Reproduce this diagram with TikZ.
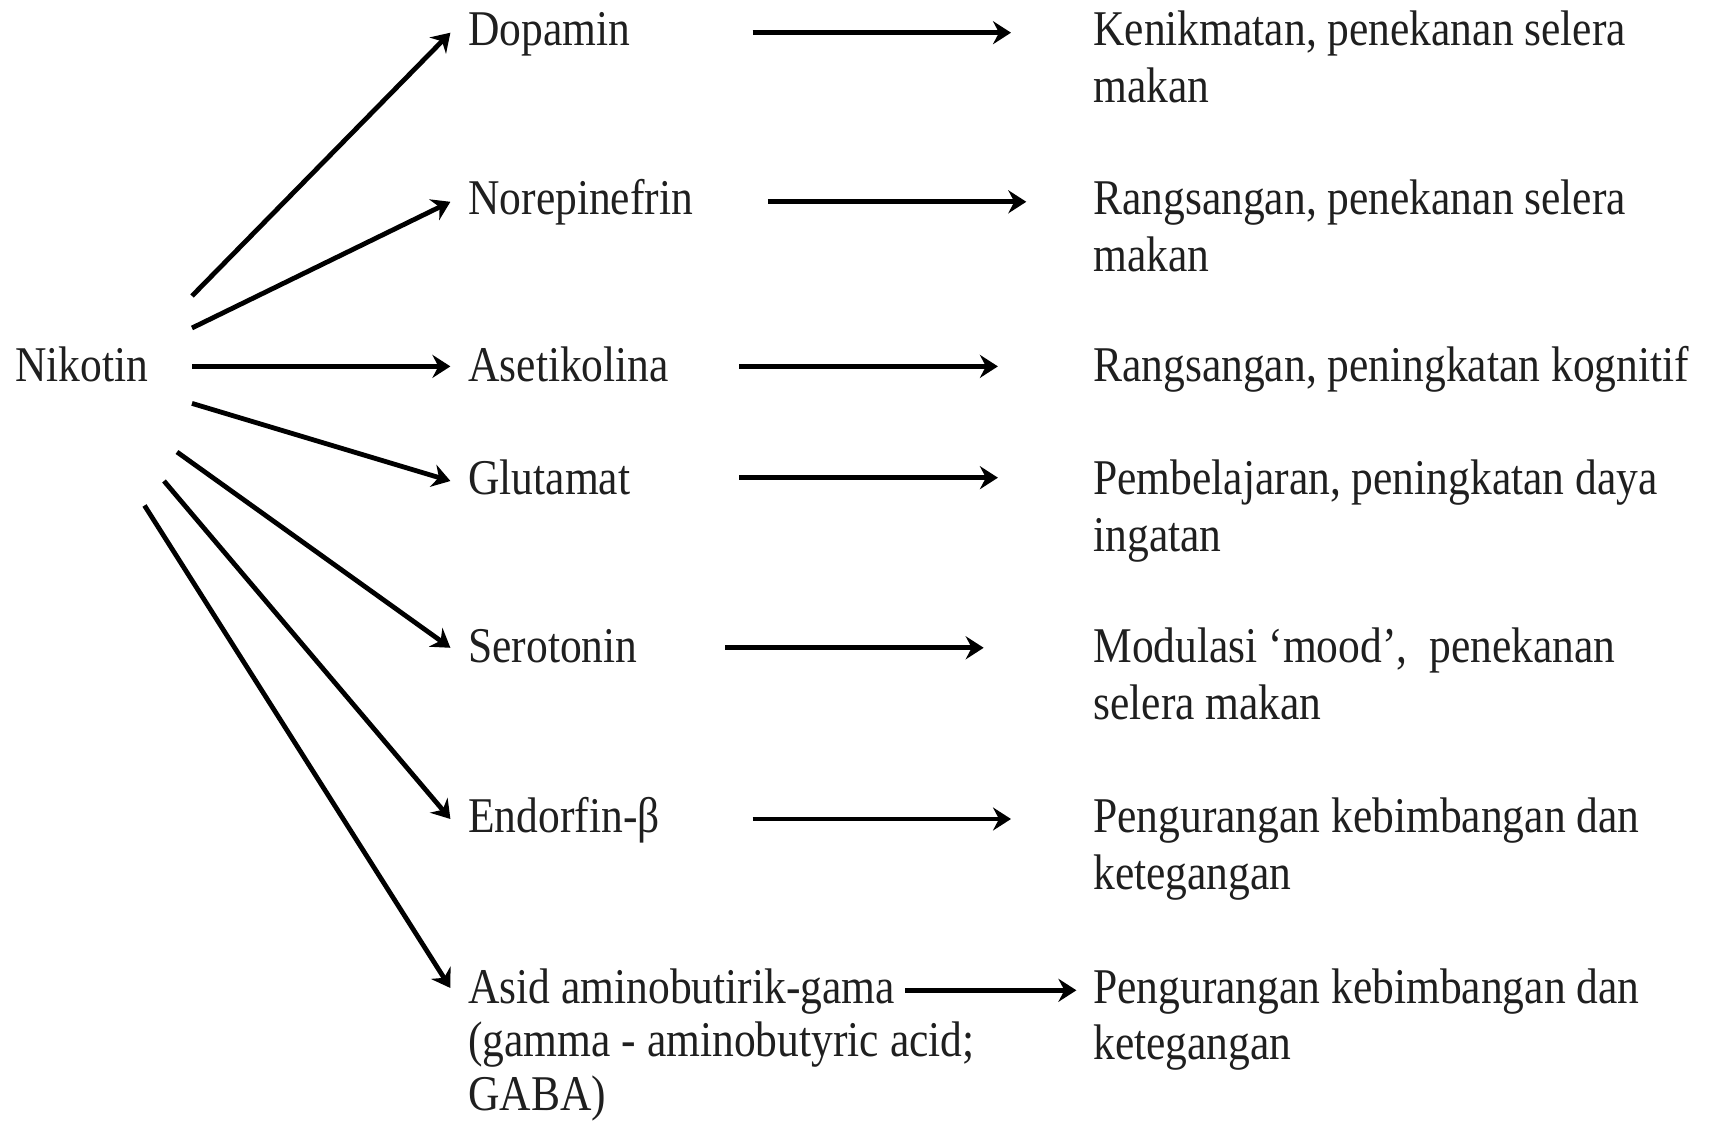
\documentclass[tikz,border=0pt]{standalone}
\usepackage{fontspec}
\setmainfont{Liberation Serif}[FakeStretch=0.87]
\usetikzlibrary{arrows.meta}
\newcommand\mlines[1]{\begin{tabular}[t]{@{}l@{}}#1\end{tabular}}
\begin{document}
\begin{tikzpicture}[x=0.5pt,y=-0.5pt,
  lbl/.style={anchor=base west,inner sep=0pt,text=black!88,font=\fontsize{25pt}{28.35pt}\selectfont},
  arr/.style={-{Stealth[length=9pt,width=11.5pt,inset=3pt]},line width=2.4pt}]
\useasboundingbox (0,0) rectangle (1710,1122);
% left node
\node[lbl] (nik) at (15,381.4) {Nikotin};
% middle column
\node[lbl] (dop) at (468,45.5) {Dopamin};
\node[lbl] (nor) at (468,214.6) {Norepinefrin};
\node[lbl] (ase) at (468,381.4) {Asetikolina};
\node[lbl] (glu) at (468,494.9) {Glutamat};
\node[lbl] (ser) at (468,662.8) {Serotonin};
\node[lbl] (edf) at (468,833) {Endorfin-β};
\node[lbl,font=\fontsize{25pt}{26.9pt}\selectfont] (gab) at (468,1003) {\mlines{Asid aminobutirik-gama\\(gamma - aminobutyric acid;\\GABA)}};
% right column
\node[lbl] (r1) at (1093,45.5) {\mlines{Kenikmatan, penekanan selera\\makan}};
\node[lbl] (r2) at (1093,214.6) {\mlines{Rangsangan, penekanan selera\\makan}};
\node[lbl] (r3) at (1093,381.4) {Rangsangan, peningkatan kognitif};
\node[lbl] (r4) at (1093,494.9) {\mlines{Pembelajaran, peningkatan daya\\ingatan}};
\node[lbl] (r5) at (1093,662.8) {\mlines{Modulasi ‘mood’,\ \ penekanan\\selera makan}};
\node[lbl] (r6) at (1093,833) {\mlines{Pengurangan kebimbangan dan\\ketegangan}};
\node[lbl] (r7) at (1093,1003) {\mlines{Pengurangan kebimbangan dan\\ketegangan}};
% start points of the fan
\coordinate (s1) at (192,296);
\coordinate (s2) at (192,328);
\coordinate (s3) at (192,366.4);
\coordinate (s4) at (192,403.4);
\coordinate (s5) at (177,452);
\coordinate (s6) at (164,481);
\coordinate (s7) at (144.5,505.5);
% end points of the fan
\coordinate (t1) at (450.4,32.7);
\coordinate (t2) at (450.4,201.8);
\coordinate (t3) at (450.4,366.4);
\coordinate (t4) at (450.4,481);
\coordinate (t5) at (450.4,647.8);
\coordinate (t6) at (450.4,819);
\coordinate (t7) at (450.4,988);
\foreach \i in {1,...,7}{\draw[arr] (s\i) -- (t\i);}
% right arrows
\coordinate (a1) at (752.5,32.7);   \coordinate (b1) at (1011,32.7);
\coordinate (a2) at (767.8,201.8);  \coordinate (b2) at (1026.3,201.8);
\coordinate (a3) at (739.4,366.4);  \coordinate (b3) at (997.9,366.4);
\coordinate (a4) at (739.4,477.7);  \coordinate (b4) at (997.9,477.7);
\coordinate (a5) at (725.3,647.8);  \coordinate (b5) at (983.7,647.8);
\coordinate (a6) at (752.5,819);    \coordinate (b6) at (1011,819);
\coordinate (a7) at (905.2,990.3);  \coordinate (b7) at (1076.4,990.3);
\foreach \i in {1,...,7}{\draw[arr] (a\i) -- (b\i);}
\end{tikzpicture}
\end{document}
